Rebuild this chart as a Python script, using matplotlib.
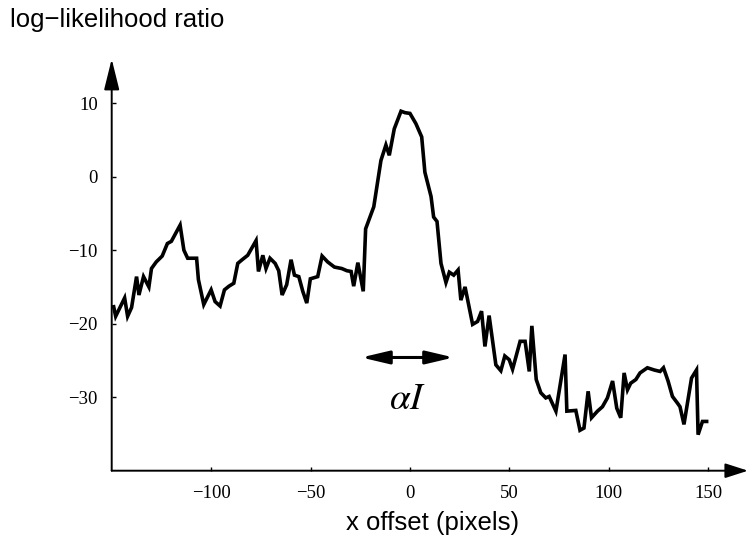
import numpy as np
import matplotlib
matplotlib.use('Agg')
import matplotlib.pyplot as plt
from matplotlib.patches import FancyArrowPatch

# x offset (pixels) vs log-likelihood ratio
x_offset = [-149, -148, -143.5, -142, -140, -137.5, -136.3, -134, -131.3, -130,
            -127.6, -124.6, -122, -120, -115.6, -113.7, -111.8, -107.3, -106.4, -103.7,
            -100, -98, -95.5, -93.3, -91, -88.6, -86.6, -84.4, -81.6, -77.4,
            -76.2, -74, -72.4, -70.4, -67.8, -66, -64.3, -62, -59.8, -58.1,
            -55.9, -53.9, -51.9, -50.1, -46.4, -44.2, -41.4, -38, -34.3, -31.7,
            -29.6, -28.3, -26.2, -23.5, -22.3, -18.2, -14.6, -12.1, -10.4, -7.9,
            -4.5, -2.5, 0, 3, 5.9, 7.5, 10.6, 11.9, 13.6, 15.6,
            18.1, 19.8, 22, 24.2, 25.6, 27.7, 31.5, 34, 36, 37.7,
            39.8, 43.2, 45.7, 47.7, 49.9, 51.6, 55.4, 57.9, 60, 61.3,
            63.5, 65.8, 68.3, 70, 73.4, 78, 78.9, 83.4, 85.5, 87.5,
            89.6, 91.3, 94.3, 96.8, 99.3, 101.9, 104, 106, 107.7, 109.4,
            111, 113.6, 115.7, 119.4, 122.8, 125.8, 127.5, 129.8, 132, 134.5,
            135.8, 137.8, 141.6, 144.1, 144.9, 147.1, 149.2]
llr = [-17.7, -19.0, -16.5, -19.0, -17.8, -13.6, -16.1, -13.6, -15.0, -12.5,
       -11.6, -10.8, -9.1, -8.8, -6.6, -10.0, -11.1, -11.1, -14.0, -17.4,
       -15.4, -17.0, -17.6, -15.4, -14.9, -14.5, -11.8, -11.3, -10.7, -8.7,
       -12.9, -10.7, -12.5, -11.1, -11.8, -12.8, -16.1, -14.7, -11.3, -13.4,
       -13.6, -15.6, -17.2, -13.9, -13.6, -10.8, -11.6, -12.3, -12.5, -12.8,
       -12.9, -14.9, -11.7, -15.6, -7.1, -4.1, 2.2, 4.3, 2.9, 6.5,
       8.9, 8.7, 8.6, 7.2, 5.4, 0.6, -2.7, -5.5, -6.1, -11.8,
       -14.4, -13.0, -13.4, -12.7, -16.8, -15.0, -20.1, -19.7, -18.3, -23.1,
       -18.9, -25.6, -26.4, -24.4, -24.9, -26.2, -22.4, -22.4, -26.5, -20.3,
       -27.6, -29.4, -30.1, -29.9, -31.9, -24.2, -31.9, -31.8, -34.5, -34.2,
       -29.2, -32.8, -31.9, -31.3, -30.1, -27.8, -31.5, -32.8, -26.7, -29.0,
       -28.1, -27.6, -26.7, -26.0, -26.3, -26.5, -26.0, -27.8, -29.9, -30.8,
       -31.3, -33.7, -27.4, -26.3, -35.1, -33.3, -33.3]
xticks = [-100, -50, 0, 50, 100, 150]
yticks = [-30, -20, -10, 0, 10]

plt.rcParams['mathtext.fontset'] = 'stix'

fig = plt.figure(figsize=(7.49, 5.44), dpi=100)
ax = fig.add_axes([111.7 / 749, 1 - 470.7 / 544, (748 - 111.7) / 749, (470.7 - 59) / 544])
ax.set_xlim(-150, 170)
ax.set_ylim(-40, 16)

ax.plot(x_offset, llr, color='black', lw=2.6, solid_joinstyle='miter')

for s in ax.spines.values():
    s.set_visible(False)

# axes drawn as arrows
xarr = FancyArrowPatch((-150, -40), (170, -40), arrowstyle='-|>,head_length=14,head_width=4.5',
                       mutation_scale=1, lw=1.4, color='black', shrinkA=0, shrinkB=0, clip_on=False)
yarr = FancyArrowPatch((-150, -40), (-150, 16), arrowstyle='-|>,head_length=19,head_width=4.7',
                       mutation_scale=1, lw=1.4, color='black', shrinkA=0, shrinkB=0, clip_on=False)
ax.add_patch(xarr)
ax.add_patch(yarr)

# alpha I width marker
ax.annotate('', xy=(-24.5, -24.6), xytext=(22, -24.6),
            arrowprops=dict(arrowstyle='<|-|>,head_length=1.4,head_width=0.33', lw=2.2,
                            color='black', shrinkA=0, shrinkB=0, mutation_scale=12))
ax.text(-1, -30.3, r'$\alpha I$', fontsize=27, ha='center', va='center')

ax.set_xticks(xticks)
ax.set_yticks(yticks)
ax.set_xticklabels([str(t).replace('-', '\u2212') for t in xticks])
ax.set_yticklabels([str(t).replace('-', '\u2212') for t in yticks])
ax.tick_params(direction='in', length=3, width=1, pad=10, labelsize=13.5)
for lab in ax.get_xticklabels() + ax.get_yticklabels():
    lab.set_family('Liberation Serif')

fig.text(10 / 749, 1 - 20 / 544, 'log\u2212likelihood ratio', fontsize=18.5,
         family='Liberation Sans', ha='left', va='center')
fig.text(433 / 749, 1 - 523 / 544, 'x offset (pixels)', fontsize=18.5,
         family='Liberation Sans', ha='center', va='center')

plt.savefig('out.png', dpi=100)
